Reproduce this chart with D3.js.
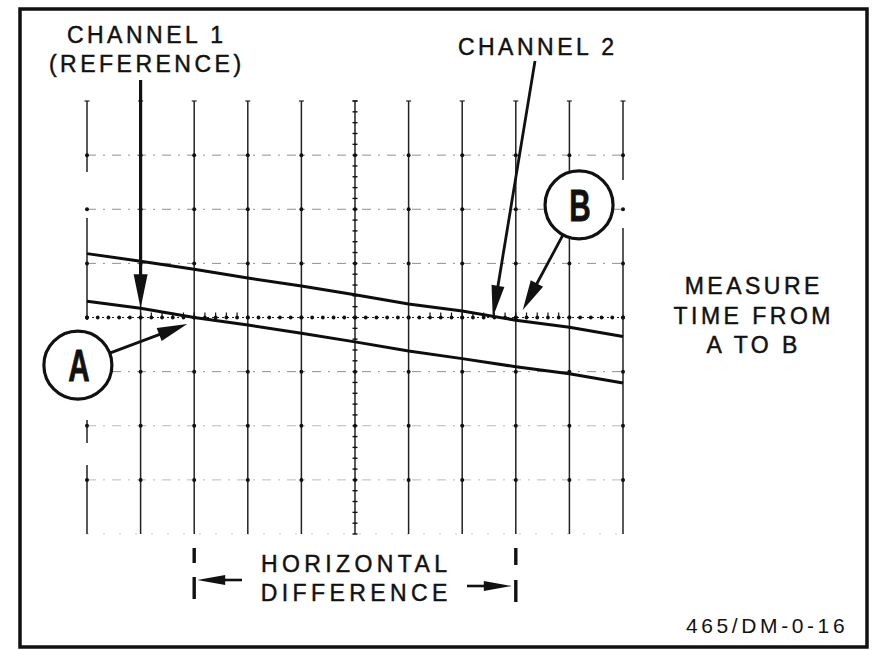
<!DOCTYPE html>
<html>
<head>
<meta charset="utf-8">
<script src="https://cdn.jsdelivr.net/npm/d3@7"></script>
<style>
  body { margin: 0; background: #fff; }
  text { font-family: "Liberation Sans", Arial, sans-serif; fill: #111; }
</style>
</head>
<body>
<svg id="chart" width="874" height="650"></svg>
<script>
// graticule: 10 time divisions, 8 vertical divisions (centre = 0)
const timeDivs = d3.range(0, 11);
const voltDivs = d3.range(-4, 5);

// traces, one value per time division
const traceTime = [0, 1, 2, 3, 4, 5, 6, 7, 8, 9, 10];
const channel1 = [0.30, 0.17, 0.00, -0.14, -0.29, -0.45, -0.62, -0.76, -0.91, -1.04, -1.21];
const channel2 = [1.18, 1.04, 0.89, 0.73, 0.58, 0.42, 0.25, 0.12, -0.05, -0.18, -0.35];

// annotation texts
const ch1Label = ["CHANNEL 1", "(REFERENCE)"];
const ch2Label = ["CHANNEL 2"];
const measureLabel = ["MEASURE", "TIME FROM", "A TO B"];
const diffLabel = ["HORIZONTAL", "DIFFERENCE"];
const pointNames = ["A", "B"];
const figureId = "465/DM-0-16";

const svg = d3.select("#chart");

const x = d3.scaleLinear().domain([0, 10]).range([87, 623]);
const y = d3.scaleLinear().domain([-4, 4]).range([534, 101]);

// outer frame
svg.append("rect")
  .attr("x", 20).attr("y", 9)
  .attr("width", 847).attr("height", 638)
  .attr("fill", "none").attr("stroke", "#111").attr("stroke-width", 3.5);

const grid = svg.append("g").attr("class", "graticule");

// horizontal graticule lines (dash-dot), centre one handled separately
grid.selectAll("line.h")
  .data(voltDivs.filter(d => d !== 0 && d !== 4))
  .enter().append("line")
  .attr("class", "h")
  .attr("x1", x(0)).attr("x2", x(10))
  .attr("y1", d => y(d)).attr("y2", d => y(d))
  .attr("stroke", "#555")
  .attr("stroke-width", d => d === -4 ? 0.8 : 1)
  .attr("stroke-dasharray", d => d === -4 ? "2,14" : "9,7,2,7")
  .attr("opacity", d => d < -1 ? 0.4 : 0.65);

// vertical graticule lines
grid.selectAll("line.v")
  .data(timeDivs)
  .enter().append("line")
  .attr("class", "v")
  .attr("x1", d => x(d)).attr("x2", d => x(d))
  .attr("y1", y(4)).attr("y2", y(-4))
  .attr("stroke", "#222")
  .attr("stroke-width", 1.5)
  .attr("stroke-dasharray", d => d === 0 ? "71,46,102,100,23,22,70" : (d === 10 ? "79,48,400" : null));

// small caps at the top of each vertical
grid.selectAll("line.cap")
  .data(timeDivs)
  .enter().append("line")
  .attr("x1", d => x(d) - 2.5).attr("x2", d => x(d) + 2.5)
  .attr("y1", y(4)).attr("y2", y(4))
  .attr("stroke", "#222").attr("stroke-width", 1.2);

// dots where graticule lines cross
const crossings = [];
timeDivs.forEach(t => voltDivs.filter(v => v > -4 && v < 4).forEach(v => crossings.push([t, v])));
grid.selectAll("circle.cross")
  .data(crossings)
  .enter().append("circle")
  .attr("cx", d => x(d[0])).attr("cy", d => y(d[1]))
  .attr("r", 2).attr("fill", "#111");

// centre horizontal: dotted with minor ticks
grid.append("line")
  .attr("x1", x(0)).attr("x2", x(10))
  .attr("y1", y(0)).attr("y2", y(0))
  .attr("stroke", "#222").attr("stroke-width", 1)
  .attr("stroke-dasharray", "2,3");
const minorT = d3.range(0, 50.5, 1).map(i => i / 5);
grid.selectAll("circle.mh")
  .data(minorT)
  .enter().append("circle")
  .attr("cx", d => x(d)).attr("cy", y(0))
  .attr("r", 1.9).attr("fill", "#111");
grid.selectAll("line.mht")
  .data(minorT.filter(d => (d > 0.9 && d < 2.9) || (d > 6.3 && d < 8.9)))
  .enter().append("line")
  .attr("x1", d => x(d)).attr("x2", d => x(d))
  .attr("y1", y(0) - 5).attr("y2", y(0) + 1)
  .attr("stroke", "#111").attr("stroke-width", 1.2);

// centre vertical: minor ticks
const minorV = d3.range(-20, 20.5, 1).map(i => i / 5);
grid.selectAll("line.mv")
  .data(minorV)
  .enter().append("line")
  .attr("x1", x(5) - 2.5).attr("x2", x(5) + 2.5)
  .attr("y1", d => y(d)).attr("y2", d => y(d))
  .attr("stroke", "#111").attr("stroke-width", 1.4);

// traces
const line = d3.line().x(d => x(d[0])).y(d => y(d[1]));
[channel1, channel2].forEach(vals => {
  svg.append("path")
    .datum(traceTime.map((t, i) => [t, vals[i]]))
    .attr("d", line)
    .attr("fill", "none")
    .attr("stroke", "#0d0d0d")
    .attr("stroke-width", 3);
});

// arrow helper: shaft plus filled head
function arrow(x1, y1, x2, y2, headLen, halfW, sw) {
  const dx = x2 - x1, dy = y2 - y1;
  const L = Math.hypot(dx, dy);
  const ux = dx / L, uy = dy / L;
  const bx = x2 - ux * headLen, by = y2 - uy * headLen;
  const g = svg.append("g");
  g.append("line")
    .attr("x1", x1).attr("y1", y1)
    .attr("x2", bx + ux * 2).attr("y2", by + uy * 2)
    .attr("stroke", "#111").attr("stroke-width", sw);
  g.append("path")
    .attr("d", `M${x2},${y2}L${bx - uy * halfW},${by + ux * halfW}L${bx + uy * halfW},${by - ux * halfW}Z`)
    .attr("fill", "#111");
  return g;
}

// channel 1 pointer
arrow(x(1), 80, x(1), y(channel1[1]), 34, 7, 3.2);
// channel 2 pointer
arrow(535, 61, x(7.57), y(0), 32, 6.5, 2.8);

// circled point names
const circles = [
  { name: pointNames[0], t: -0.17, v: -0.88, tipT: 1.87, tipV: -0.12 },
  { name: pointNames[1], t: 9.18, v: 2.08, tipT: 8.13, tipV: 0.14 }
];
const R = 34;
circles.forEach(c => {
  const cx = x(c.t), cy = y(c.v);
  svg.append("circle")
    .attr("cx", cx).attr("cy", cy).attr("r", R)
    .attr("fill", "#fff").attr("stroke", "#111").attr("stroke-width", 3.2);
  svg.append("text")
    .attr("transform", `translate(${cx + 1},${cy + 16}) scale(0.66,1)`)
    .attr("text-anchor", "middle")
    .attr("font-size", 45)
    .attr("font-weight", "bold")
    .attr("stroke", "#111").attr("stroke-width", 0.8)
    .text(c.name);
  const tx = x(c.tipT), ty = y(c.tipV);
  const a = Math.atan2(ty - cy, tx - cx);
  arrow(cx + Math.cos(a) * R, cy + Math.sin(a) * R, tx, ty, 30, 7, 2.8);
});

// labels
const ls = 3.5;
function label(lines, cx, baseline, step, spacing) {
  svg.append("g").selectAll("text")
    .data(lines)
    .enter().append("text")
    .attr("x", cx + spacing / 2)
    .attr("y", (d, i) => baseline + i * step)
    .attr("text-anchor", "middle")
    .attr("font-size", 23)
    .attr("letter-spacing", spacing)
    .attr("stroke", "#111").attr("stroke-width", 0.45)
    .text(d => d);
}
label(ch1Label, 145, 43, 29, ls);
label(ch2Label, 536, 55, 29, ls);
label(measureLabel, 752, 294, 29.5, ls);
label(diffLabel, 354, 572, 28.5, 4.4);

// horizontal difference markers
const diffEnds = [
  { t: 2, from: 242, tipOff: 3, ay: 580, b1: [548, 563], b2: [577, 599] },
  { t: 8, from: 467, tipOff: -4, ay: 586, b1: [548, 565], b2: [580, 602] }
];
diffEnds.forEach(d => {
  const bx = x(d.t);
  [d.b1, d.b2].forEach(b => {
    svg.append("line")
      .attr("x1", bx).attr("x2", bx)
      .attr("y1", b[0]).attr("y2", b[1])
      .attr("stroke", "#111").attr("stroke-width", 3.4);
  });
  arrow(d.from, d.ay, bx + d.tipOff, d.ay, 28, 5, 2.6);
});

// figure number
svg.append("text")
  .attr("x", 686).attr("y", 633)
  .attr("font-family", "DejaVu Sans, sans-serif")
  .attr("font-size", 21)
  .attr("letter-spacing", 3.6)
  .attr("fill", "#222")
  .text(figureId);
</script>
</body>
</html>
